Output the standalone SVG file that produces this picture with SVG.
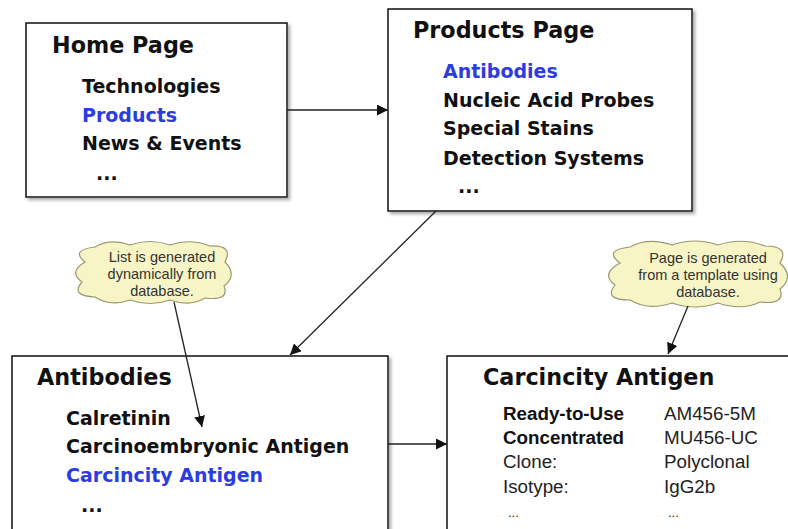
<svg xmlns="http://www.w3.org/2000/svg" width="788" height="529" viewBox="0 0 788 529">
<defs>
<style>
.box{fill:#fff;stroke:#111;stroke-width:1.5;filter:url(#sh)}
.title{font-family:"DejaVu Sans",Verdana,sans-serif;font-weight:bold;font-size:22.3px;fill:#111}
.item{font-family:"DejaVu Sans",Verdana,sans-serif;font-weight:bold;font-size:19px;fill:#111}
.blue{fill:#2c3ce0}
.prop{font-family:"Liberation Sans",Arial,sans-serif;font-size:18.8px;fill:#222}
.pb{font-weight:bold;fill:#111}
.cloud{fill:#f7f5c6;stroke:#9a9870;stroke-width:1.2}
.ct{font-family:"Liberation Sans",Arial,sans-serif;font-size:14.5px;fill:#333;text-anchor:middle}
.conn{stroke:#222;stroke-width:1.3;fill:none;marker-end:url(#ah)}
</style>
<filter id="sh" x="-5%" y="-5%" width="115%" height="115%">
<feDropShadow dx="2.5" dy="2.5" stdDeviation="1.5" flood-color="#777" flood-opacity="0.6"/>
</filter>
<marker id="ah" viewBox="0 0 10 10" refX="10" refY="5" markerWidth="11" markerHeight="11" markerUnits="userSpaceOnUse" orient="auto">
<path d="M0,0 L10,5 L0,10 Z" fill="#111"/>
</marker>
</defs>
<rect width="788" height="529" fill="#fff"/>

<g id="home">
<rect class="box" x="26" y="23" width="261" height="174"/>
<text class="title" x="52" y="53">Home Page</text>
<text class="item" x="82" y="93">Technologies</text>
<text class="item blue" x="82" y="122">Products</text>
<text class="item" x="82" y="150">News &amp; Events</text>
<text class="item" x="96" y="180">...</text>
</g>

<g id="products">
<rect class="box" x="388" y="9" width="304" height="202"/>
<text class="title" x="413" y="38">Products Page</text>
<text class="item blue" x="443" y="78">Antibodies</text>
<text class="item" x="443" y="107">Nucleic Acid Probes</text>
<text class="item" x="443" y="135">Special Stains</text>
<text class="item" x="443" y="165">Detection Systems</text>
<text class="item" x="458" y="193">...</text>
</g>

<g id="antibodies">
<rect class="box" x="12" y="356" width="376" height="190"/>
<text class="title" x="37" y="385">Antibodies</text>
<text class="item" x="66" y="425">Calretinin</text>
<text class="item" x="66" y="453">Carcinoembryonic Antigen</text>
<text class="item blue" x="66" y="482">Carcincity Antigen</text>
<text class="item" x="81" y="512">...</text>
</g>

<g id="carcincity">
<rect class="box" x="447" y="356" width="360" height="190"/>
<text class="title" x="483" y="385">Carcincity Antigen</text>
<text class="prop pb" x="503" y="420">Ready-to-Use</text>
<text class="prop pb" x="503" y="444">Concentrated</text>
<text class="prop" x="503" y="468">Clone:</text>
<text class="prop" x="503" y="493">Isotype:</text>
<text class="prop" x="508" y="517" style="font-size:13px">...</text>
<text class="prop" x="664" y="420">AM456-5M</text>
<text class="prop" x="664" y="444">MU456-UC</text>
<text class="prop" x="664" y="468">Polyclonal</text>
<text class="prop" x="664" y="493">IgG2b</text>
<text class="prop" x="668" y="517" style="font-size:13px">...</text>
</g>

<g id="note1">
<path class="cloud" d="M85,262 Q70,250 95,247 Q110,238 130,245 Q150,238 170,245 Q190,238 210,246 Q234,245 225,262 Q238,275 224,286 Q230,301 205,298 Q190,307 170,300 Q150,307 130,300 Q110,307 95,297 Q70,296 82,282 Q68,272 85,262 Z"/>
<text class="ct" x="162" y="262">List is generated</text>
<text class="ct" x="162" y="279">dynamically from</text>
<text class="ct" x="162" y="296">database.</text>
</g>

<g id="note2">
<path class="cloud" d="M620,263 Q603,250 630,247 Q648,237 672,245 Q695,237 718,245 Q742,237 765,246 Q790,246 780,263 Q795,277 780,289 Q786,305 760,302 Q742,311 718,303 Q695,311 672,303 Q648,311 630,300 Q603,300 615,285 Q600,274 620,263 Z"/>
<text class="ct" x="708" y="263">Page is generated</text>
<text class="ct" x="708" y="280">from a template using</text>
<text class="ct" x="708" y="297">database.</text>
</g>

<g id="connectors">
<line class="conn" x1="287" y1="110" x2="388" y2="110"/>
<line class="conn" x1="436" y1="211" x2="290" y2="355"/>
<line class="conn" x1="388" y1="444" x2="447" y2="444"/>
<line class="conn" x1="174" y1="302" x2="202" y2="427"/>
<line class="conn" x1="688" y1="306" x2="668" y2="354"/>
</g>
</svg>
